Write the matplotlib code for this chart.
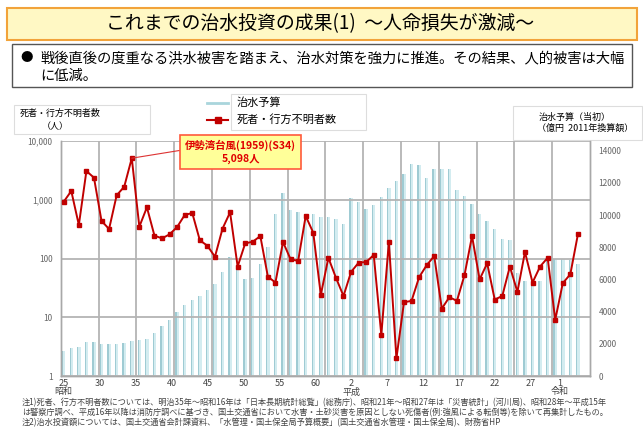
import numpy as np
import matplotlib
matplotlib.use("Agg")
import matplotlib.pyplot as plt
from matplotlib.patches import Rectangle
from matplotlib.lines import Line2D

plt.rcParams['font.family'] = ['Noto Sans CJK JP', 'DejaVu Sans']

# data (1950 = S25 ... 2018 = H30)
years = list(range(1950, 2019))

# deaths / missing (persons), left log axis
deaths = [926, 1409, 372, 3084, 2375, 435, 318, 1190, 1666, 5098,
          348, 743, 245, 220, 258, 344, 550, 595, 204, 165,
          107, 322, 611, 73, 181, 193, 241, 49, 39, 191,
          97, 91, 529, 275, 24, 103, 47, 23, 59, 85,
          87, 115, 5, 191, 2, 18, 19, 48, 77, 110,
          14, 22, 19, 52, 241, 44, 83, 20, 23, 73,
          27, 129, 39, 73, 103, 9, 38, 54, 258]

# flood control budget (100 million yen, 2011 prices), right axis
budget = [1556, 1742, 1805, 2116, 2095, 2012, 1971, 1971, 2074, 2178,
          2261, 2302, 2676, 3112, 3485, 3983, 4418, 4750, 4978, 5352,
          5705, 6452, 7405, 6700, 6036, 6119, 6949, 8008, 10081, 11346,
          10330, 10164, 10081, 10081, 9875, 9875, 9770, 9416, 11057, 10786,
          10371, 10641, 11139, 11680, 12114, 12570, 13150, 13110, 12300, 12860,
          12860, 12860, 11574, 11160, 10660, 10060, 9645, 9147, 8525, 8420,
          6390, 5932, 5932, 5912, 7343, 7260, 7260, 7177, 6928]

label_years = [1950, 1955, 1960, 1965, 1970, 1975, 1980, 1985,
               1990, 1995, 2000, 2005, 2010, 2015, 2019]
label_text = ['25\n昭和', '30', '35', '40', '45', '50', '55', '60',
              '2\n平成', '7', '12', '17', '22', '27', '1\n令和']

left_ticks = [1, 10, 100, 1000, 10000]
left_labels = ['1', '10', '100', '1,000', '10,000']
right_ticks = list(range(0, 16000, 2000))

title = 'これまでの治水投資の成果(1)  ～人命損失が激減～'
bullet1 = '戦後直後の度重なる洪水被害を踏まえ、治水対策を強力に推進。その結果、人的被害は大幅'
bullet2 = 'に低減。'
notes = [
    '注1)死者、行方不明者数については、明治35年～昭和16年は「日本長期統計総覧」(総務庁)、昭和21年～昭和27年は「災害統計」(河川局)、昭和28年～平成15年',
    'は警察庁調べ、平成16年以降は消防庁調べに基づき、国土交通省において水害・土砂災害を原因としない死傷者(例:強風による転倒等)を除いて再集計したもの。',
    '注2)治水投資額については、国土交通省会計課資料、「水管理・国土保全局予算概要」(国土交通省水管理・国土保全局)、財務省HP',
]

W, H = 643, 428
fig = plt.figure(figsize=(W / 100, H / 100), dpi=100)


def fx(px):
    return px / W


def fy(py):
    return 1 - py / H


def box(x0, y0, x1, y1, fc, ec, lw):
    fig.patches.append(Rectangle((fx(x0), fy(y1)), fx(x1) - fx(x0), fy(y0) - fy(y1),
                                 transform=fig.transFigure, facecolor=fc,
                                 edgecolor=ec, linewidth=lw, zorder=0))


# header boxes
box(7, 8, 637, 40, '#fff8c4', '#f2a33a', 1.5)
fig.text(fx(320), fy(24), title, ha='center', va='center', fontsize=13.6)
box(12, 44, 632, 87, 'white', '#555555', 1.0)
fig.text(fx(20), fy(58), '●', ha='left', va='center', fontsize=9)
fig.text(fx(40), fy(58), bullet1, ha='left', va='center', fontsize=10.3)
fig.text(fx(40), fy(76), bullet2, ha='left', va='center', fontsize=10.3)

# axis caption boxes
box(14, 105, 150, 134, 'white', '#dddddd', 0.8)
fig.text(fx(20), fy(113), '死者・行方不明者数', ha='left', va='center', fontsize=6.5)
fig.text(fx(55), fy(127), '（人）', ha='center', va='center', fontsize=6.5)
box(513, 106, 642, 140, 'white', '#dddddd', 0.8)
fig.text(fx(539), fy(117), '治水予算（当初）', ha='left', va='center', fontsize=6.5)
fig.text(fx(537), fy(128), '（億円  2011年換算額）', ha='left', va='center', fontsize=6.5)

# legend
box(231, 94, 366, 130, 'white', '#dddddd', 0.8)
fig.lines.append(Line2D([fx(207), fx(228)], [fy(103), fy(103)], transform=fig.transFigure,
                        color='#a9d5dc', lw=2))
fig.lines.append(Line2D([fx(207), fx(228)], [fy(120), fy(120)], transform=fig.transFigure,
                        color='#c00000', lw=1.5))
fig.lines.append(Line2D([fx(217.5)], [fy(120)], transform=fig.transFigure,
                        color='#c00000', marker='s', markersize=4))
fig.text(fx(237), fy(103), '治水予算', ha='left', va='center', fontsize=8)
fig.text(fx(237), fy(120), '死者・行方不明者数', ha='left', va='center', fontsize=8)

# main chart
ax = fig.add_axes([fx(60.7), fy(376), fx(590) - fx(60.7), fy(141) - fy(376)])
ax2 = ax.twinx()
ax.set_zorder(ax2.get_zorder() + 1)
ax.patch.set_visible(False)

x = np.arange(len(years))
ax2.bar(x, budget, width=0.46, color='#d3ecf0', zorder=2)
ax2.bar(x - 0.23, budget, width=0.17, align='edge', color='#9fcbd3', zorder=2)
ax2.set_ylim(0, 14600)
ax2.set_yticks(right_ticks)
ax2.tick_params(axis='y', length=0, labelsize=6, labelcolor='#666666', pad=6)

ax.plot(x, deaths, color='#c00000', lw=1.4, marker='s', markersize=3.2, zorder=5)
ax.set_yscale('log')
ax.set_ylim(1, 10000)
ax.set_yticks(left_ticks)
ax.set_yticklabels(left_labels)
ax.minorticks_off()
ax.set_xlim(-0.4, 69.6)
ax.grid(axis='y', color='#b4b4b4', lw=1.3)
for i in range(1, 14):
    ax.axvline(-0.4 + 5 * i, color='#b4b4b4', lw=1.3, zorder=1)

tick_pos = [(yr - 1950) * 0.951 for yr in label_years]
ax.set_xticks(tick_pos)
ax.set_xticklabels(label_text, fontsize=6.5, color='#444444', linespacing=0.95)
ax.tick_params(axis='y', length=0, labelsize=6, labelcolor='#666666', pad=6)
ax.tick_params(axis='x', length=0, pad=2)

for a in (ax, ax2):
    for s in a.spines.values():
        s.set_color('#a8a8a8')
        s.set_linewidth(1.0)
ax2.spines['top'].set_visible(False)
ax.spines['top'].set_visible(False)

ax.annotate('伊勢湾台風(1959)(S34)\n5,098人', xy=(9, 5098),
            xytext=(fx(240.5), fy(152)), textcoords='figure fraction',
            ha='center', va='center', fontsize=7.5, fontweight='bold',
            color='#e00000', linespacing=1.3,
            bbox=dict(boxstyle='square,pad=0.45', fc='#ffff99', ec='#ff5a3c', lw=1.2),
            arrowprops=dict(arrowstyle='-', color='#dd3333', lw=0.8,
                            relpos=(0, 0.6), shrinkA=0, shrinkB=0),
            zorder=10)

# footnotes
for i, line in enumerate(notes):
    fig.text(fx(22), fy(403 + 10 * i), line, ha='left', va='center', fontsize=5.9,
             color='#444444')

fig.savefig('out.png', dpi=100)
